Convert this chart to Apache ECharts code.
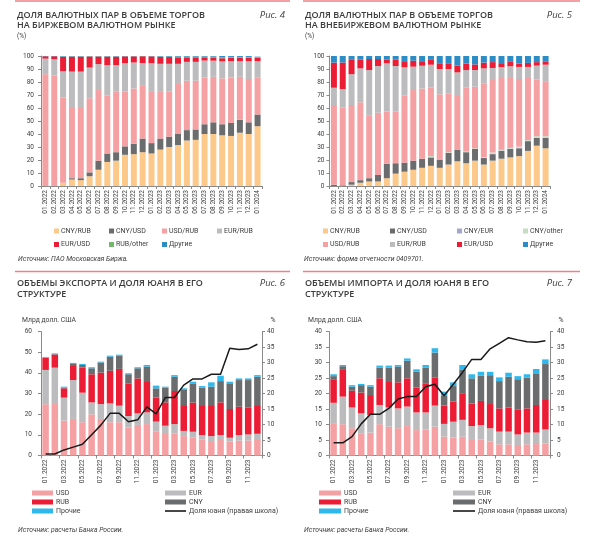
<!DOCTYPE html>
<html><head><meta charset="utf-8">
<script src="https://cdn.jsdelivr.net/npm/echarts@6/dist/echarts.min.js"></script>
<style>html,body{margin:0;padding:0;background:#fff}#c{width:600px;height:547px}</style>
</head><body><div id="c"></div>
<script>
// ---------- categories / tick labels ----------
const months25 = ['01.2022','02.2022','03.2022','04.2022','05.2022','06.2022','07.2022','08.2022','09.2022','10.2022','11.2022','12.2022','01.2023','02.2023','03.2023','04.2023','05.2023','06.2023','07.2023','08.2023','09.2023','10.2023','11.2023','12.2023','01.2024'];
const months24 = ['01.2022','02.2022','03.2022','04.2022','05.2022','06.2022','07.2022','08.2022','09.2022','10.2022','11.2022','12.2022','01.2023','02.2023','03.2023','04.2023','05.2023','06.2023','07.2023','08.2023','09.2023','10.2023','11.2023','12.2023'];

// ---------- Fig 4: exchange market shares (%) ----------
const f4CnyRub  = [0,0,2.5,5,4.5,7.5,12.5,18.5,19.5,24,24.5,26,25,28,30,31.5,35,35.5,40,40,39,38.5,41,40,46];
const f4CnyUsd  = [0,0,0,1,1.5,3,7,6.5,6.5,6.5,8,10.5,8,8.5,8,8.5,8,8,7.5,9,8.5,10,10,9,9];
const f4UsdRub  = [86,85,65.5,54,54,57,54.3,44.5,46.8,42.3,42.5,40.5,40,36.5,34.5,38.5,38,37.5,36,35,35.3,35,33,33.3,28.6];
const f4EurRub  = [12,12.5,20.3,28,28,23.6,20,23.5,20.2,21.6,20,17.5,21.4,21,21.5,15.5,14.5,14.5,13,12.4,13,12.5,12,13.7,12.4];
const f4EurUsd  = [1.8,2.3,11,11.5,11.5,8.5,5.8,6.5,6.5,5.3,4.7,5.3,5.3,5.3,5.2,5,3.5,3.5,2.5,2.5,2.5,2.6,2.6,2.6,2.5];
const f4RubOth  = [0,0,0.3,0.2,0.2,0.2,0.2,0.2,0.2,0.1,0.1,0.1,0.1,0.3,0.3,0.5,0.5,0.5,0.5,0.6,0.8,0.7,0.7,0.7,0.5];
const f4Other   = [0.2,0.2,0.4,0.3,0.3,0.2,0.2,0.3,0.3,0.2,0.2,0.1,0.2,0.4,0.5,0.5,0.5,0.5,0.5,0.5,0.9,0.7,0.7,0.7,0.5];

// ---------- Fig 5: OTC market shares (%) ----------
const f5CnyRub  = [0,0,1,2.5,3.5,3.5,6,9.5,11,12.5,14,15.5,14,16.5,19,17.5,19.5,16.5,19.5,21,22,23,27,31,29];
const f5CnyUsd  = [1,0.5,2,2,2.5,5,11,8,7,7,7,6.5,6,9,9,8.5,9,5,5,6,6.5,6,7.5,6,8];
const f5CnyEur  = [0,0,0,0,0,0,0,0,0,0,0,0,0,0,0,0,0,0.2,0.3,0.3,0.3,0.3,0.3,0.3,0.3];
const f5CnyOth  = [0,0,0,0,0,0,0,0,0,0,0,1,0,0.5,0,0.5,0.5,0.5,1,0.5,0.5,1,0.5,1,1];
const f5UsdRub  = [61.3,59.8,59.3,59.9,48,47.9,40.2,39.7,51.5,54.3,54,52.6,50.5,45.3,42,49.1,47.4,56.8,56.5,56,53.8,52,47.8,43.5,42.3];
const f5EurRub  = [13.3,14.3,23.7,26.1,35.2,35.9,37.2,35.1,21.8,18,17.5,17.7,19.5,18.7,17.4,13.6,12.8,11.5,8.5,7.7,9,9.3,8.5,10.8,12.7];
const f5EurUsd  = [19.3,20.4,11,6.9,8.5,5.4,3,5.1,4.7,4.6,3.5,3.7,4.4,4.4,5.2,4.9,4.3,4.4,4.5,3,3.8,2.5,3.1,2.7,2.6];
const f5Other   = [5.1,5,3,2.6,2.3,2.3,2.6,2.6,4,3.6,4,3,5.6,5.6,7.4,5.9,6.5,5.1,4.7,5.5,4.1,5.9,5.3,4.7,4.1];

// ---------- Fig 6: exports (bn USD) and yuan share (%) ----------
const f6Usd   = [24.8,24.9,16.9,17.7,16.1,19.9,17.7,16.1,16.1,13.5,14.8,15.2,11.5,10.4,10.7,9.4,8.6,7.8,7.0,7.5,6.7,7.2,7.3,7.5];
const f6Eur   = [16.6,17.6,11.1,18.8,14.3,5.8,7.2,9.1,8.0,5.6,5.6,5.7,4.9,4.0,4.5,2.5,2.9,2.1,2.4,2.4,1.9,2.7,2.9,3.0];
const f6Rub   = [5.9,6.4,4.5,6.8,12.1,13.6,15.2,15.8,17.8,15.8,16.9,15.1,11.6,11.3,16.0,12.5,14.1,14.5,15.0,15.8,13.9,13.7,13.1,13.9];
const f6Cny   = [0.1,0.1,0.3,1.0,1.3,2.9,4.9,6.8,6.4,4.4,4.9,7.0,4.5,7.1,6.9,7.3,9.3,8.4,8.9,10.3,12.1,12.9,13.2,13.7];
const f6Oth   = [0.3,0.4,0.5,0.5,0.5,0.5,0.4,0.5,0.5,0.5,0.5,0.8,1.3,0.5,0.8,0.8,0.8,0.8,2.1,2.6,1.1,0.8,0.8,0.8];
const f6Share = [0.5,0.5,1.8,2.7,3.6,6.7,9.8,13.6,13.6,10.9,11.5,15.7,13.4,18.7,18.7,22.7,24.7,24.7,26.2,26.2,34.6,34.2,34.4,35.9];

// ---------- Fig 7: imports (bn USD) and yuan share (%) ----------
const f7Usd   = [10.2,10.1,8.8,7.2,7.4,10.1,9.3,8.8,9.5,8.2,8.4,9.3,6.1,5.8,6.1,5.0,5.2,4.5,3.6,3.6,3.4,3.6,3.7,3.9];
const f7Eur   = [6.8,8.9,6.7,6.4,5.7,6.2,6.2,6.4,6.3,5.7,5.5,6.8,4.1,5.1,5.4,4.5,4.6,4.3,4.1,4.1,3.4,3.8,3.7,4.5];
const f7Rub   = [7.4,8.6,5.4,6.7,6.4,8.6,8.5,8.4,9.1,8.0,9.4,9.1,5.9,6.5,8.6,7.3,7.8,7.8,7.5,7.8,8.1,7.8,8.9,9.8];
const f7Cny   = [1.2,1.2,1.3,2.4,2.7,3.4,4.4,5.1,5.7,5.1,5.0,8.0,3.1,5.0,7.5,8.1,8.2,9.3,8.8,9.9,9.7,9.9,10.0,11.3];
const f7Oth   = [0.6,0.4,0.5,0.4,0.5,0.7,0.6,0.5,0.7,0.8,0.9,1.4,1.4,1.2,1.6,1.3,1.2,1.1,1.2,1.3,1.0,1.1,1.6,1.5];
const f7Share = [4.1,4.1,6.1,10.2,13.3,13.3,15.2,18.2,19.0,19.0,22.2,23.0,19.3,23.0,26.8,31.0,31.0,34.4,36.2,38.0,37.3,36.7,36.5,37.0];

// ---------- styling ----------
const COL = {orange:'#fcc98b', dark:'#6b6c6e', pink:'#f5a1a4', gray:'#bcbcbe', red:'#ec1c34',
  green:'#74b66e', blue:'#2b8cc6', lav:'#a4a7c9', paleGreen:'#c6dcc3', cyan:'#2fb8ec', line:'#1a1a1a'};
const FONT = 'Roboto, "DejaVu Sans", sans-serif';
const TXT = '#3c3c3c';
const AX = '#8a8a8a';

function bar(name, data, color, xi, yi, stack, bw) {
  return {type:'bar', name, data, stack, xAxisIndex:xi, yAxisIndex:yi, barWidth:bw,
    itemStyle:{color}, emphasis:{disabled:true}, silent:true};
}
function line(name, data, xi, yi) {
  return {type:'line', name, data, xAxisIndex:xi, yAxisIndex:yi, symbol:'none', silent:true,
    lineStyle:{color:COL.line, width:1.5}, itemStyle:{color:COL.line}, z:5};
}
function catAxis(gi, data, interval) {
  return {type:'category', gridIndex:gi, data, boundaryGap:true,
    axisLine:{lineStyle:{color:AX, width:1}},
    axisTick:{show:true, length:3, interval:interval, lineStyle:{color:AX}},
    axisLabel:{rotate:90, interval:interval, fontSize:6.5, color:TXT, fontFamily:FONT, margin:4}};
}
function valAxis(gi, max, interval, pos, margin) {
  return {type:'value', gridIndex:gi, min:0, max, interval, position:pos,
    splitLine:{show:false},
    axisLine:{show:true, lineStyle:{color:AX}},
    axisTick:{show:true, length:3, lineStyle:{color:AX}},
    axisLabel:{fontSize:6.5, color:TXT, fontFamily:FONT, margin}};
}
const legends = [];
function leg(name, x, y, w, h, icon, pad) {
  legends.push({data:[{name, icon}], left:x, top:y-4.5, itemWidth:w, itemHeight:h, padding:0,
    selectedMode:false, orient:'horizontal',
    textStyle:{fontSize:7, color:TXT, fontFamily:FONT, lineHeight:9, padding:[0,0,0,pad]}});
}
// Fig 4 legend
leg('CNY/RUB',54,231,5,5,'rect',-3); leg('CNY/USD',109,231,5,5,'rect',-3);
leg('USD/RUB',162,231,5,5,'rect',-3); leg('EUR/RUB',217,231,5,5,'rect',-3);
leg('EUR/USD',54,244.5,5,5,'rect',-3); leg('RUB/other',109,244.5,5,5,'rect',-3);
leg('Другие',162,244.5,5,5,'rect',-3);
// Fig 5 legend
leg('CNY/RUB',323,231,5,5,'rect',-3); leg('CNY/USD',390,231,5,5,'rect',-3);
leg('CNY/EUR',457,231,5,5,'rect',-3); leg('CNY/other',523,231,5,5,'rect',-3);
leg('USD/RUB',323,244.5,5,5,'rect',-3); leg('EUR/RUB',390,244.5,5,5,'rect',-3);
leg('EUR/USD',457,244.5,5,5,'rect',-3); leg('Другие',523,244.5,5,5,'rect',-3);
// Fig 6 legend
leg('USD',32,493,21,5,'rect',-2); leg('EUR',165,493,21,5,'rect',-2);
leg('RUB',32,502,21,5,'rect',-2); leg('CNY',165,502,21,5,'rect',-2);
leg('Прочие',32,511,21,5,'rect',-2); leg('Доля юаня (правая школа)',165,511,21,1.6,'rect',-2);
// Fig 7 legend
leg('USD',319,493,22,5,'rect',-2); leg('EUR',453,493,22,5,'rect',-2);
leg('RUB',319,502,22,5,'rect',-2); leg('CNY',453,502,22,5,'rect',-2);
leg('Прочие',319,511,22,5,'rect',-2); leg('Доля юаня (правая школа)',453,511,22,1.6,'rect',-2);

function txt(text, x, y, opts) {
  opts = opts || {};
  return {type:'text', x, y, silent:true, style:{text, fill:opts.fill||TXT,
    font:opts.font||('7px ' + FONT), align:opts.align||'left', verticalAlign:'middle'}};
}
const TITLE_FONT = '600 9px "Open Sans", Roboto, sans-serif';
const FIG_FONT = 'italic 9.5px "Open Sans", Roboto, sans-serif';
const SRC_FONT = 'italic 6.8px ' + FONT;
const graphics = [
  {type:'line', silent:true, shape:{x1:15,y1:1,x2:290,y2:1}, style:{stroke:'#ee7f88', lineWidth:1.6}},
  {type:'line', silent:true, shape:{x1:303,y1:1,x2:580,y2:1}, style:{stroke:'#ee7f88', lineWidth:1.6}},
  {type:'line', silent:true, shape:{x1:15,y1:271.5,x2:290,y2:271.5}, style:{stroke:'#ee7f88', lineWidth:1.6}},
  {type:'line', silent:true, shape:{x1:303,y1:271.5,x2:580,y2:271.5}, style:{stroke:'#ee7f88', lineWidth:1.6}},
  txt('ДОЛЯ ВАЛЮТНЫХ ПАР В ОБЪЕМЕ ТОРГОВ',17,15,{font:TITLE_FONT}),
  txt('НА БИРЖЕВОМ ВАЛЮТНОМ РЫНКЕ',17,25.7,{font:TITLE_FONT}),
  txt('Рис. 4',285,15,{font:FIG_FONT, align:'right'}),
  txt('(%)',17,36.7,{font:'6.5px '+FONT}),
  txt('ДОЛЯ ВАЛЮТНЫХ ПАР В ОБЪЕМЕ ТОРГОВ',305,15,{font:TITLE_FONT}),
  txt('НА ВНЕБИРЖЕВОМ ВАЛЮТНОМ РЫНКЕ',305,25.7,{font:TITLE_FONT}),
  txt('Рис. 5',572,15,{font:FIG_FONT, align:'right'}),
  txt('(%)',305,36.7,{font:'6.5px '+FONT}),
  txt('Источник: ПАО Московская Биржа.',18,259,{font:SRC_FONT}),
  txt('Источник: форма отчетности 0409701.',304,259,{font:SRC_FONT}),
  txt('ОБЪЕМЫ ЭКСПОРТА И ДОЛЯ ЮАНЯ В ЕГО',17,283.3,{font:TITLE_FONT}),
  txt('СТРУКТУРЕ',17,294.3,{font:TITLE_FONT}),
  txt('Рис. 6',285,283.3,{font:FIG_FONT, align:'right'}),
  txt('ОБЪЕМЫ ИМПОРТА И ДОЛЯ ЮАНЯ В ЕГО',305,283.3,{font:TITLE_FONT}),
  txt('СТРУКТУРЕ',305,294.3,{font:TITLE_FONT}),
  txt('Рис. 7',572,283.3,{font:FIG_FONT, align:'right'}),
  txt('Млрд долл. США',22,320.7,{font:'6.8px '+FONT}),
  txt('%',273,320.7,{font:'6.8px '+FONT, align:'center'}),
  txt('Млрд долл. США',308,320.7,{font:'6.8px '+FONT}),
  txt('%',561,320.7,{font:'6.8px '+FONT, align:'center'}),
  txt('Источник: расчеты Банка России.',18,530,{font:SRC_FONT}),
  txt('Источник: расчеты Банка России.',304,530,{font:SRC_FONT})
];

const option = {
  animation:false,
  backgroundColor:'#fff',
  textStyle:{fontFamily:FONT},
  grid:[
    {left:41, top:56, width:221, height:130},
    {left:329.5, top:56, width:220.5, height:130},
    {left:41, top:331.5, width:221, height:124},
    {left:329, top:331.5, width:221, height:124}
  ],
  xAxis:[catAxis(0, months25, 0), catAxis(1, months25, 0), catAxis(2, months24, 1), catAxis(3, months24, 1)],
  yAxis:[
    valAxis(0,100,10,'left',7),
    valAxis(1,100,10,'left',5),
    valAxis(2,60,10,'left',9),
    valAxis(2,40,5,'right',5),
    valAxis(3,40,5,'left',7),
    valAxis(3,40,5,'right',7)
  ],
  legend:legends,
  graphic:graphics,
  series:[
    bar('CNY/RUB', f4CnyRub, COL.orange, 0,0,'f4',6),
    bar('CNY/USD', f4CnyUsd, COL.dark, 0,0,'f4',6),
    bar('USD/RUB', f4UsdRub, COL.pink, 0,0,'f4',6),
    bar('EUR/RUB', f4EurRub, COL.gray, 0,0,'f4',6),
    bar('EUR/USD', f4EurUsd, COL.red, 0,0,'f4',6),
    bar('RUB/other', f4RubOth, COL.green, 0,0,'f4',6),
    bar('Другие', f4Other, COL.blue, 0,0,'f4',6),

    bar('CNY/RUB', f5CnyRub, COL.orange, 1,1,'f5',6),
    bar('CNY/USD', f5CnyUsd, COL.dark, 1,1,'f5',6),
    bar('CNY/EUR', f5CnyEur, COL.lav, 1,1,'f5',6),
    bar('CNY/other', f5CnyOth, COL.paleGreen, 1,1,'f5',6),
    bar('USD/RUB', f5UsdRub, COL.pink, 1,1,'f5',6),
    bar('EUR/RUB', f5EurRub, COL.gray, 1,1,'f5',6),
    bar('EUR/USD', f5EurUsd, COL.red, 1,1,'f5',6),
    bar('Другие', f5Other, COL.blue, 1,1,'f5',6),

    bar('USD', f6Usd, COL.pink, 2,2,'f6',6.5),
    bar('EUR', f6Eur, COL.gray, 2,2,'f6',6.5),
    bar('RUB', f6Rub, COL.red, 2,2,'f6',6.5),
    bar('CNY', f6Cny, COL.dark, 2,2,'f6',6.5),
    bar('Прочие', f6Oth, COL.cyan, 2,2,'f6',6.5),

    bar('USD', f7Usd, COL.pink, 3,4,'f7',6.5),
    bar('EUR', f7Eur, COL.gray, 3,4,'f7',6.5),
    bar('RUB', f7Rub, COL.red, 3,4,'f7',6.5),
    bar('CNY', f7Cny, COL.dark, 3,4,'f7',6.5),
    bar('Прочие', f7Oth, COL.cyan, 3,4,'f7',6.5),

    line('Доля юаня (правая школа)', f6Share, 2,3),
    line('Доля юаня (правая школа)', f7Share, 3,5)
  ]
};
const chart = echarts.init(document.getElementById('c'), null, {renderer:'canvas'});
chart.setOption(option);
</script>
</body></html>
